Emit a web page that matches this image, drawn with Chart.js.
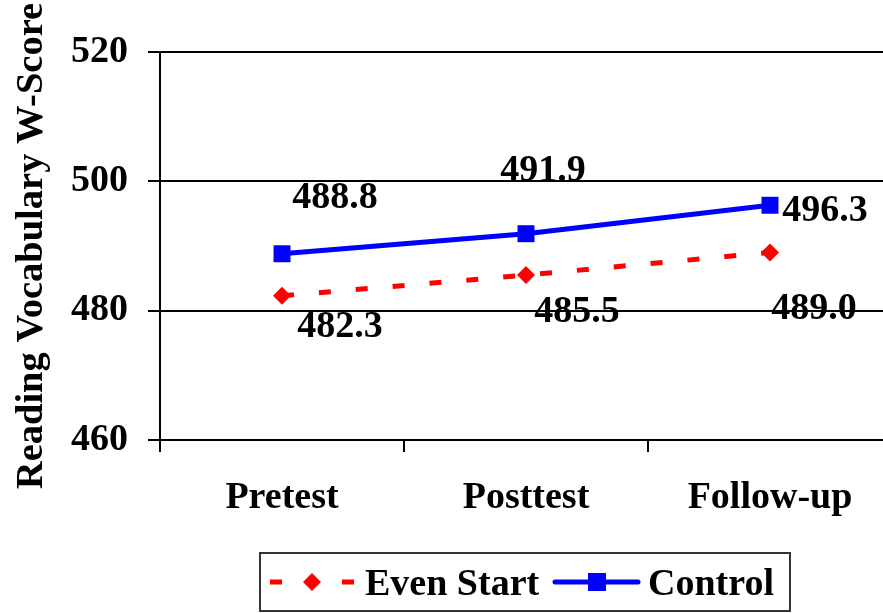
<!DOCTYPE html>
<html>
<head>
<meta charset="utf-8">
<script src="https://cdn.jsdelivr.net/npm/chart.js@4/dist/chart.umd.min.js"></script>
<style>
  html, body { margin: 0; padding: 0; background: #fff; overflow: hidden; }
  #wrap { width: 904px; height: 613px; }
</style>
</head>
<body>
<div id="wrap"><canvas id="chart" width="904" height="613"></canvas></div>
<script>
const categories = ['Pretest', 'Posttest', 'Follow-up'];
const evenStart = [482.3, 485.5, 489.0];
const control = [488.8, 491.9, 496.3];
const yMin = 460;
const yMax = 520;
const yStep = 20;
const yTitle = 'Reading Vocabulary W-Score';

const fontFamily = '"Liberation Serif", "Times New Roman", serif';
const red = '#ff0000';
const blue = '#0000ff';

// value labels sit next to each point, offset in pixels
const labelOffsets = [
    [[58, 31], [51, 37], [44, 57]],
    [[53, -56], [17, -63], [55, 6]]
];

const valueLabels = {
    id: 'valueLabels',
    afterDatasetsDraw (chart) {
        const ctx = chart.ctx;
        ctx.save();
        ctx.font = `bold 38px ${fontFamily}`;
        ctx.fillStyle = '#000';
        ctx.textAlign = 'center';
        ctx.textBaseline = 'middle';
        chart.data.datasets.forEach((ds, i) => {
            chart.getDatasetMeta(i).data.forEach((pt, j) => {
                const [dx, dy] = labelOffsets[i][j];
                ctx.fillText(ds.data[j].toFixed(1), pt.x + dx, pt.y + dy);
            });
        });
        ctx.restore();
    }
};

const boxLegend = {
    id: 'boxLegend',
    afterDraw (chart) {
        const ctx = chart.ctx;
        const [es, ct] = chart.data.datasets;
        const y = 582;
        ctx.save();
        ctx.strokeStyle = '#333';
        ctx.lineWidth = 2;
        ctx.strokeRect(260, 553, 530, 58);

        // Even Start sample
        ctx.strokeStyle = es.borderColor;
        ctx.lineWidth = es.borderWidth;
        ctx.setLineDash([12, 60]);
        ctx.beginPath();
        ctx.moveTo(270, y);
        ctx.lineTo(354, y);
        ctx.stroke();
        ctx.setLineDash([]);
        ctx.fillStyle = es.borderColor;
        ctx.beginPath();
        ctx.moveTo(312, y - 9);
        ctx.lineTo(321, y);
        ctx.lineTo(312, y + 9);
        ctx.lineTo(303, y);
        ctx.closePath();
        ctx.fill();

        // Control sample
        ctx.strokeStyle = ct.borderColor;
        ctx.lineWidth = ct.borderWidth;
        ctx.lineCap = 'round';
        ctx.beginPath();
        ctx.moveTo(555, y);
        ctx.lineTo(638, y);
        ctx.stroke();
        ctx.fillStyle = ct.borderColor;
        ctx.fillRect(588, y - 9, 18, 18);

        ctx.fillStyle = '#000';
        ctx.font = `bold 38px ${fontFamily}`;
        ctx.textAlign = 'left';
        ctx.textBaseline = 'alphabetic';
        ctx.fillText(es.label, 365, 595);
        ctx.fillText(ct.label, 648, 595);
        ctx.restore();
    }
};

new Chart(document.getElementById('chart'), {
    type: 'line',
    data: {
        labels: categories,
        datasets: [
            {
                label: 'Even Start',
                data: evenStart,
                borderColor: red,
                backgroundColor: red,
                borderWidth: 5,
                borderDash: [12, 25],
                borderCapStyle: 'butt',
                pointStyle: 'rectRot',
                pointRadius: 9,
                pointBorderWidth: 0,
                tension: 0
            },
            {
                label: 'Control',
                data: control,
                borderColor: blue,
                backgroundColor: blue,
                borderWidth: 5,
                pointStyle: 'rect',
                pointRadius: 12,
                pointBorderWidth: 0,
                tension: 0
            }
        ]
    },
    plugins: [valueLabels, boxLegend],
    options: {
        responsive: false,
        animation: false,
        layout: { padding: { top: 52, left: 0, right: 0, bottom: 73 } },
        plugins: {
            legend: { display: false },
            tooltip: { enabled: false }
        },
        scales: {
            x: {
                offset: true,
                afterFit: scale => { scale.height = 100; },
                grid: {
                    offset: true,
                    drawOnChartArea: false,
                    drawTicks: true,
                    tickLength: 12,
                    color: '#000',
                    lineWidth: 2
                },
                border: { color: '#000', width: 2 },
                ticks: {
                    color: '#000',
                    padding: 23,
                    maxRotation: 0,
                    font: { family: fontFamily, size: 38, weight: 'bold' }
                }
            },
            y: {
                min: yMin,
                max: yMax,
                afterFit: scale => { scale.width = 160; },
                grid: {
                    color: '#000',
                    lineWidth: 2,
                    tickLength: 12
                },
                border: { color: '#000', width: 2 },
                ticks: {
                    stepSize: yStep,
                    color: '#000',
                    padding: 20,
                    font: { family: fontFamily, size: 38, weight: 'bold' }
                },
                title: {
                    display: true,
                    text: yTitle,
                    color: '#000',
                    padding: { top: 9, bottom: 0 },
                    font: { family: fontFamily, size: 38.5, weight: 'bold' }
                }
            }
        }
    }
});
</script>
</body>
</html>
